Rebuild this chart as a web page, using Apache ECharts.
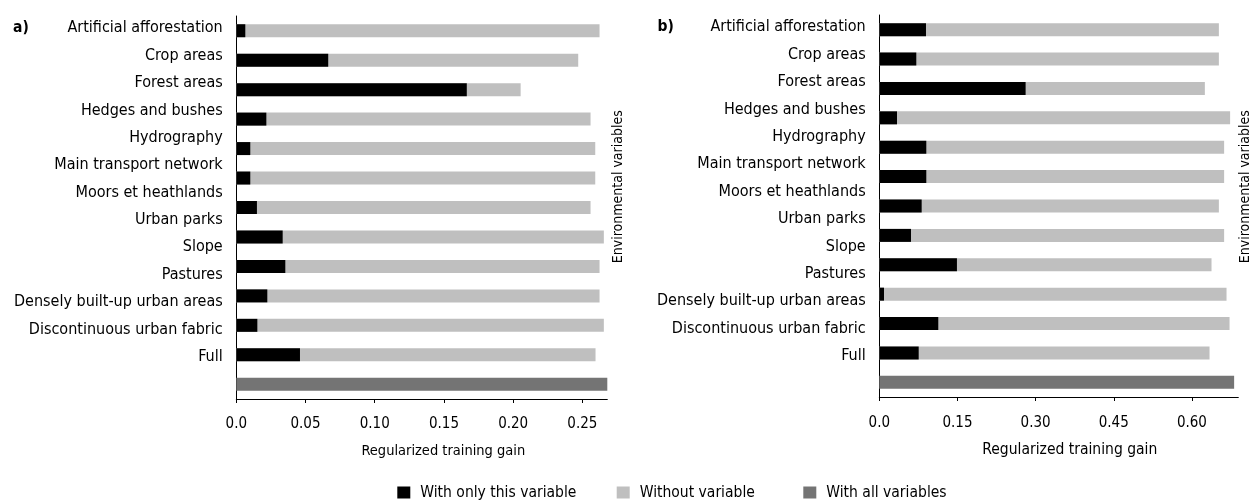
<!DOCTYPE html>
<html>
<head>
<meta charset="utf-8">
<title>Jackknife of regularized training gain</title>
<script src="https://cdn.jsdelivr.net/npm/echarts@6/dist/echarts.min.js"></script>
<style>
  html, body { margin: 0; padding: 0; background: #fff; }
  #chart { width: 1255px; height: 501px; }
</style>
</head>
<body>
<div id="chart"></div>
<script>
// Environmental variables (the last row is the full model)
const categories = [
  'Artificial afforestation', 'Crop areas', 'Forest areas', 'Hedges and bushes',
  'Hydrography', 'Main transport network', 'Moors et heathlands', 'Urban parks',
  'Slope', 'Pastures', 'Densely built-up urban areas', 'Discontinuous urban fabric', 'Full'
];

// Panel a) gains
const onlyA    = [0.0065, 0.0664, 0.1665, 0.0217, 0.0101, 0.0101, 0.0149, 0.0335, 0.0354, 0.0224, 0.0152, 0.0460, null];
const withoutA = [0.2624, 0.2470, 0.2054, 0.2559, 0.2593, 0.2593, 0.2559, 0.2655, 0.2624, 0.2624, 0.2655, 0.2595, null];
const allA     = [null, null, null, null, null, null, null, null, null, null, null, null, 0.268];

// Panel b) gains
const onlyB    = [0.0896, 0.0710, 0.2808, 0.0340, 0.0902, 0.0902, 0.0813, 0.0608, 0.1490, 0.0090, 0.1132, 0.0756, null];
const withoutB = [0.6517, 0.6517, 0.6248, 0.6733, 0.6618, 0.6618, 0.6517, 0.6618, 0.6376, 0.6664, 0.6722, 0.6338, null];
const allB     = [null, null, null, null, null, null, null, null, null, null, null, null, 0.681];

// Axis ticks
const ticksA = [0, 0.05, 0.10, 0.15, 0.20, 0.25];
const ticksB = [0, 0.15, 0.30, 0.45, 0.60];
const maxA = 0.268;
const maxB = 0.689;

const FONT = "'DejaVu Sans Condensed', 'Liberation Sans Narrow', sans-serif";
const INK = '#000';
const C_ONLY = '#000000';
const C_WITHOUT = '#bfbfbf';
const C_ALL = '#747474';

const tickFmt = v => (v === 0 ? '0.0' : v.toFixed(2));

function valueAxis(gridIndex, max, ticks, margin, gap, titleSize, shift) {
  return {
    type: 'value', gridIndex, min: 0, max,
    splitLine: { show: false },
    axisLine: { show: true, lineStyle: { color: INK, width: 1 } },
    axisTick: { show: true, length: 4, lineStyle: { color: INK }, customValues: ticks },
    axisLabel: {
      customValues: ticks, formatter: tickFmt, margin,
      fontFamily: FONT, fontSize: 15, color: INK
    },
    name: 'Regularized training gain', nameLocation: 'middle', nameGap: gap,
    nameTextStyle: { fontFamily: FONT, fontSize: titleSize, color: INK, padding: [0, 0, 0, shift] }
  };
}

function hiddenValueAxis(gridIndex) {
  return { type: 'value', gridIndex, show: false, min: 0, max: 1 };
}

function barAxis(gridIndex) {
  return {
    type: 'category', gridIndex, data: categories, inverse: true,
    axisLine: { show: true, lineStyle: { color: INK, width: 1 } },
    axisTick: { show: false },
    axisLabel: { show: false }
  };
}

function labelAxis(gridIndex, margin) {
  return {
    type: 'category', gridIndex, data: categories, inverse: true,
    axisLine: { show: false }, axisTick: { show: false },
    axisLabel: { margin, fontFamily: FONT, fontSize: 16, color: INK }
  };
}

function panelSeries(axisIdx, only, without, all) {
  const common = { type: 'bar', xAxisIndex: axisIdx, yAxisIndex: axisIdx, barWidth: 13, barGap: '-100%', silent: true };
  return [
    Object.assign({ name: 'Without variable', data: without, itemStyle: { color: C_WITHOUT } }, common),
    Object.assign({ name: 'With only this variable', data: only, itemStyle: { color: C_ONLY } }, common),
    Object.assign({ name: 'With all variables', data: all, itemStyle: { color: C_ALL } }, common)
  ];
}

function legendItem(left, name) {
  return {
    left, top: 484.5, padding: 0, itemWidth: 13, itemHeight: 12, icon: 'rect',
    data: [name], selectedMode: false,
    textStyle: { fontFamily: FONT, fontSize: 15.5, color: INK, padding: [0, 0, 0, 5] }
  };
}

function sideText(x, y, text, size, rotation, weight) {
  return {
    type: 'text', x, y, rotation: rotation || 0,
    style: {
      text, fontFamily: FONT, fontSize: size, fontWeight: weight || 'normal', fill: INK,
      align: rotation ? 'center' : 'left', verticalAlign: 'middle'
    }
  };
}

const chart = echarts.init(document.getElementById('chart'), null, { renderer: 'canvas' });

const gridBase = { outerBoundsMode: 'none', containLabel: false };

chart.setOption({
  backgroundColor: '#ffffff',
  animation: false,
  grid: [
    Object.assign({ left: 236.3, top: 16, width: 371, height: 383 }, gridBase),   // a) bars
    Object.assign({ left: 236.3, top: 14.5, width: 371, height: 356 }, gridBase), // a) row labels
    Object.assign({ left: 879.3, top: 15, width: 359, height: 382 }, gridBase),   // b) bars
    Object.assign({ left: 879.3, top: 13.6, width: 359, height: 356 }, gridBase)  // b) row labels
  ],
  xAxis: [
    valueAxis(0, maxA, ticksA, 18, 45, 14.5, 43),
    hiddenValueAxis(1),
    valueAxis(2, maxB, ticksB, 18.5, 45, 15.5, 22),
    hiddenValueAxis(3)
  ],
  yAxis: [
    barAxis(0),
    labelAxis(1, 13.6),
    barAxis(2),
    labelAxis(3, 13.6)
  ],
  legend: [
    legendItem(397.3, 'With only this variable'),
    legendItem(616.7, 'Without variable'),
    legendItem(803.3, 'With all variables')
  ],
  graphic: [
    sideText(13, 27.5, 'a)', 15.5, 0, 'bold'),
    sideText(657.5, 27, 'b)', 15.5, 0, 'bold'),
    sideText(618.3, 186.7, 'Environmental variables', 14, Math.PI / 2),
    sideText(1245, 186.7, 'Environmental variables', 14, Math.PI / 2)
  ],
  series: [].concat(
    panelSeries(0, onlyA, withoutA, allA),
    panelSeries(2, onlyB, withoutB, allB)
  )
});
</script>
</body>
</html>
